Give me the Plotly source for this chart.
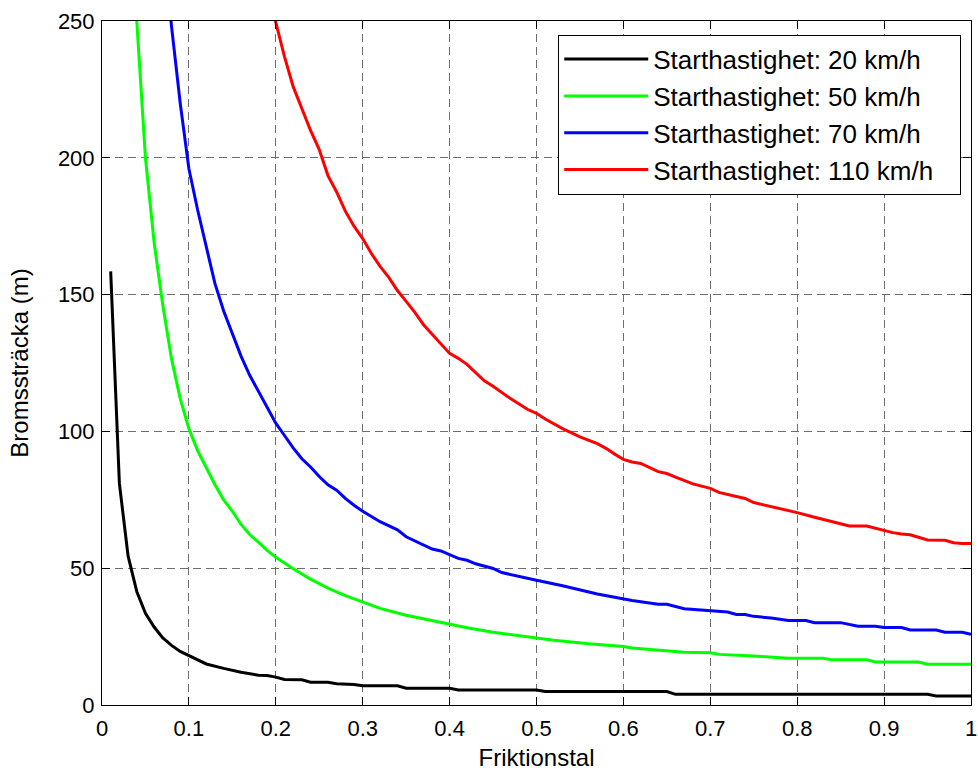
import plotly.graph_objects as go

# ---- data ----
mu_20 = [0.01, 0.02, 0.03, 0.04, 0.05, 0.06, 0.07, 0.08, 0.09, 0.10, 0.12, 0.14, 0.16, 0.18,
         0.19, 0.20, 0.21, 0.23, 0.24, 0.26, 0.27, 0.29, 0.30, 0.34, 0.35, 0.40, 0.41, 0.50,
         0.51, 0.65, 0.66, 0.95, 0.96, 1.00]
d_20 = [158.5, 81.0, 54.5, 41.5, 33.5, 28.5, 24.5, 21.8, 19.6, 18.0, 15.0, 13.4, 12.0, 10.9,
        10.8, 10.2, 9.3, 9.2, 8.3, 8.3, 7.8, 7.5, 7.0, 7.0, 6.1, 6.1, 5.5, 5.5,
        4.9, 4.9, 3.9, 3.9, 3.3, 3.3]

mu_50 = [0.03, 0.04, 0.05, 0.06, 0.07, 0.08, 0.09, 0.10, 0.11, 0.12, 0.13, 0.14, 0.15, 0.16,
         0.17, 0.18, 0.19, 0.20, 0.22, 0.24, 0.26, 0.28, 0.30, 0.32, 0.35, 0.40, 0.42, 0.45,
         0.50, 0.52, 0.56, 0.60, 0.61, 0.63, 0.67, 0.70, 0.71, 0.75, 0.79, 0.83, 0.84, 0.88,
         0.89, 0.94, 0.95, 1.00]
d_50 = [333.0, 250.0, 200.0, 169.0, 146.0, 126.5, 112.0, 101.0, 93.0, 86.5, 80.5, 75.0, 70.8, 66.0,
        62.3, 59.5, 56.5, 54.0, 49.8, 46.0, 42.7, 40.0, 37.7, 35.3, 32.8, 29.4, 28.2, 26.6,
        24.6, 23.7, 22.4, 21.4, 20.8, 20.3, 19.3, 19.1, 18.5, 17.9, 17.1, 17.1, 16.5, 16.5,
        15.7, 15.7, 14.9, 14.9]

mu_70 = [0.07, 0.08, 0.09, 0.10, 0.11, 0.12, 0.13, 0.14, 0.15, 0.16, 0.17, 0.18, 0.19, 0.20,
         0.21, 0.22, 0.23, 0.24, 0.25, 0.26, 0.27, 0.28, 0.29, 0.30, 0.32, 0.33, 0.34, 0.35,
         0.37, 0.38, 0.39, 0.41, 0.42, 0.43, 0.45, 0.46, 0.50, 0.53, 0.57, 0.60, 0.61, 0.64,
         0.65, 0.67, 0.70, 0.72, 0.73, 0.74, 0.75, 0.77, 0.79, 0.81, 0.82, 0.85, 0.87, 0.89,
         0.90, 0.92, 0.93, 0.96, 0.97, 0.99, 1.00]
d_70 = [282.0, 248.0, 220.0, 196.0, 181.0, 167.0, 154.0, 144.0, 136.0, 127.5, 120.5, 114.5, 108.5, 103.0,
        98.5, 94.0, 90.0, 87.0, 83.5, 80.5, 78.5, 75.5, 73.0, 70.8, 67.0, 65.6, 64.0, 61.5,
        58.5, 57.0, 56.3, 53.6, 52.9, 51.6, 49.9, 48.4, 45.6, 43.6, 40.6, 38.8, 38.2, 36.8,
        36.8, 35.2, 34.6, 34.0, 33.1, 33.1, 32.4, 31.8, 30.9, 30.9, 30.1, 30.1, 28.8, 28.8,
        28.3, 28.3, 27.4, 27.4, 26.6, 26.6, 25.8]

mu_110 = [0.19, 0.20, 0.21, 0.22, 0.23, 0.24, 0.25, 0.26, 0.27, 0.28, 0.29, 0.30, 0.31, 0.32,
          0.33, 0.34, 0.35, 0.36, 0.37, 0.38, 0.39, 0.40, 0.41, 0.42, 0.44, 0.45, 0.47, 0.49,
          0.50, 0.51, 0.53, 0.55, 0.57, 0.58, 0.59, 0.60, 0.61, 0.62, 0.64, 0.65, 0.66, 0.68,
          0.70, 0.71, 0.73, 0.74, 0.75, 0.77, 0.80, 0.82, 0.86, 0.88, 0.91, 0.92, 0.93, 0.95,
          0.97, 0.98, 0.99, 1.00]
d_110 = [262.0, 249.0, 237.0, 226.0, 218.0, 210.0, 203.0, 193.5, 187.5, 180.5, 175.0, 170.5, 165.0, 160.3,
         156.3, 151.5, 147.5, 143.5, 139.0, 135.5, 132.0, 128.5, 126.7, 124.5, 118.5, 116.5, 112.0, 108.0,
         106.6, 104.5, 101.0, 98.0, 95.5, 93.8, 91.7, 89.8, 88.8, 88.3, 85.3, 84.6, 83.3, 80.8,
         79.2, 77.7, 76.2, 75.5, 74.0, 72.6, 70.3, 68.6, 65.4, 65.4, 63.0, 62.5, 62.2, 60.3,
         60.2, 59.3, 59.0, 59.0]

series_names = ["Starthastighet: 20 km/h", "Starthastighet: 50 km/h",
                "Starthastighet: 70 km/h", "Starthastighet: 110 km/h"]
series_x = [mu_20, mu_50, mu_70, mu_110]
series_y = [d_20, d_50, d_70, d_110]
series_colors = ["#000000", "#00FF00", "#0000FF", "#FF0000"]

x_ticks = [0, 0.1, 0.2, 0.3, 0.4, 0.5, 0.6, 0.7, 0.8, 0.9, 1]
x_ticklabels = ["0", "0.1", "0.2", "0.3", "0.4", "0.5", "0.6", "0.7", "0.8", "0.9", "1"]
y_ticks = [0, 50, 100, 150, 200, 250]

FONT = "Liberation Sans, Arial, Helvetica, sans-serif"

fig = go.Figure()
for i, (name, xs, ys, col) in enumerate(zip(series_names, series_x, series_y, series_colors)):
    fig.add_trace(go.Scatter(x=xs, y=ys, mode="lines", name=name + "\u00a0\u00a0\u00a0",
                             legendgroup=f"g{i}",
                             line=dict(color=col, width=3)))

axis_common = dict(
    showline=True, linecolor="black", linewidth=1, mirror="ticks",
    ticks="inside", ticklen=8, tickwidth=1, tickcolor="black",
    showgrid=True, gridcolor="rgb(110,110,110)", gridwidth=1, griddash="8px,5px",
    zeroline=False, automargin=False,
    tickfont=dict(family=FONT, size=22, color="black"),
)

fig.update_xaxes(range=[0, 1], tickvals=x_ticks, ticktext=x_ticklabels,
                 ticklabelstandoff=4,
                 title=dict(text="Friktionstal", font=dict(family=FONT, size=24, color="black"),
                            standoff=12),
                 **axis_common)
fig.update_yaxes(range=[0, 250], tickvals=y_ticks,
                 ticklabelstandoff=2,
                 title=dict(text="Bromssträcka (m)", font=dict(family=FONT, size=24, color="black"),
                            standoff=22),
                 **axis_common)

fig.update_layout(
    width=978, height=771,
    margin=dict(l=102, r=7, t=21, b=66, autoexpand=False),
    paper_bgcolor="white", plot_bgcolor="white",
    font=dict(family=FONT, size=22, color="black"),
    showlegend=True,
    legend=dict(
        x=0.525, y=0.98, xanchor="left", yanchor="top",
        bgcolor="white", bordercolor="black", borderwidth=1,
        font=dict(family=FONT, size=26, color="black"),
        itemwidth=84, tracegroupgap=0, traceorder="grouped",
    ),
)

fig.write_html(
    "out.html",
    config={"displayModeBar": False},
    post_script="document.body.style.margin='0px';document.body.style.overflow='hidden';",
)
